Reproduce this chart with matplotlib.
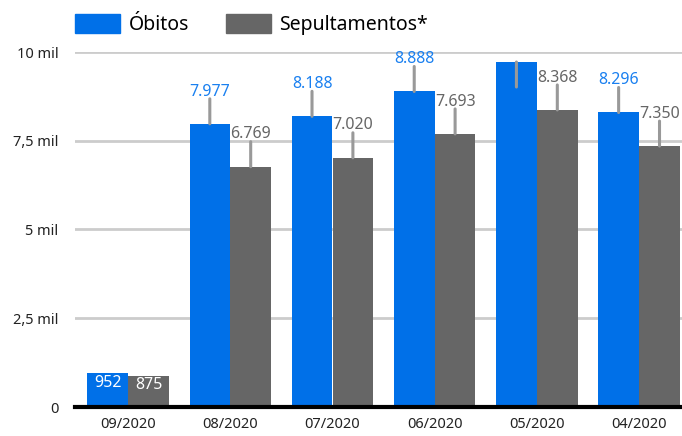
import matplotlib
matplotlib.use("Agg")
import matplotlib.pyplot as plt
from matplotlib.patches import Patch
import numpy as np

categories = ["09/2020", "08/2020", "07/2020", "06/2020", "05/2020", "04/2020"]
obitos = [952, 7977, 8188, 8888, 9718, 8296]
sepultamentos = [875, 6769, 7020, 7693, 8368, 7350]
obitos_labels = ["952", "7.977", "8.188", "8.888", None, "8.296"]
sep_labels = ["875", "6.769", "7.020", "7.693", "8.368", "7.350"]
yticks = [0, 2500, 5000, 7500, 10000]
ytick_labels = ["0", "2,5 mil", "5 mil", "7,5 mil", "10 mil"]
series_names = ["Óbitos", "Sepultamentos*"]

BLUE = "#0070E8"
GRAY = "#666666"
BLUE_TXT = "#1a80f0"
GRAY_TXT = "#666666"
LEADER = "#999999"

plt.rcParams['font.family'] = ['Noto Sans', 'DejaVu Sans']

W, H = 682, 436
fig = plt.figure(figsize=(W/100, H/100), dpi=100)
ax = fig.add_axes([75/W, (H-407)/H, (682-75)/W, (407-52)/H])

x = np.arange(len(categories))
bw = 0.397
ax.bar(x - 0.2, obitos, bw, color=BLUE, zorder=3)
ax.bar(x + 0.2, sepultamentos, bw, color=GRAY, zorder=3)

ax.set_xlim(-0.519, 5.42)
ax.set_ylim(0, 10000)
ax.set_yticks(yticks)
ax.set_yticklabels(ytick_labels, fontsize=10.5, color="#222222")
ax.set_xticks(x)
ax.set_xticklabels(categories, fontsize=10.5, color="#222222")
ax.tick_params(axis='both', length=0, pad=12)
ax.tick_params(axis='x', pad=7)
for s in ax.spines.values():
    s.set_visible(False)
ax.grid(axis='y', color="#cccccc", linewidth=2, zorder=0)
ax.axhline(0, color="black", linewidth=3, zorder=4, clip_on=False)

LFS = 11.5

def label(xc, val, txt, color, down=False):
    if val < 2000:
        ax.annotate(txt, (xc, val), xytext=(0, -1.0), textcoords='offset points',
                    ha='center', va='top', color='white', fontsize=LFS, zorder=5)
        return
    sign = -1 if down else 1
    ax.annotate("", (xc, val), xytext=(0, 18.0 * sign), textcoords='offset points',
                arrowprops=dict(arrowstyle='-', color=LEADER, lw=2.2, shrinkA=0, shrinkB=0),
                zorder=5, annotation_clip=False)
    if txt:
        ax.annotate(txt, (xc, val), xytext=(0, 17.5), textcoords='offset points',
                    ha='center', va='bottom', color=color, fontsize=LFS, zorder=5,
                    annotation_clip=False)

for i in range(len(categories)):
    label(x[i] - 0.2, obitos[i], obitos_labels[i], BLUE_TXT, down=obitos_labels[i] is None)
    label(x[i] + 0.2, sepultamentos[i], sep_labels[i], GRAY_TXT)

handles = [Patch(color=BLUE), Patch(color=GRAY)]
fig.legend(handles, series_names, loc='upper left', bbox_to_anchor=(75/W, 1 - 14/H),
           ncol=2, frameon=False, fontsize=14, handlelength=2.3, handleheight=1.15,
           handletextpad=0.45, columnspacing=1.9, borderpad=0, borderaxespad=0)

fig.savefig("out.png", dpi=100)
